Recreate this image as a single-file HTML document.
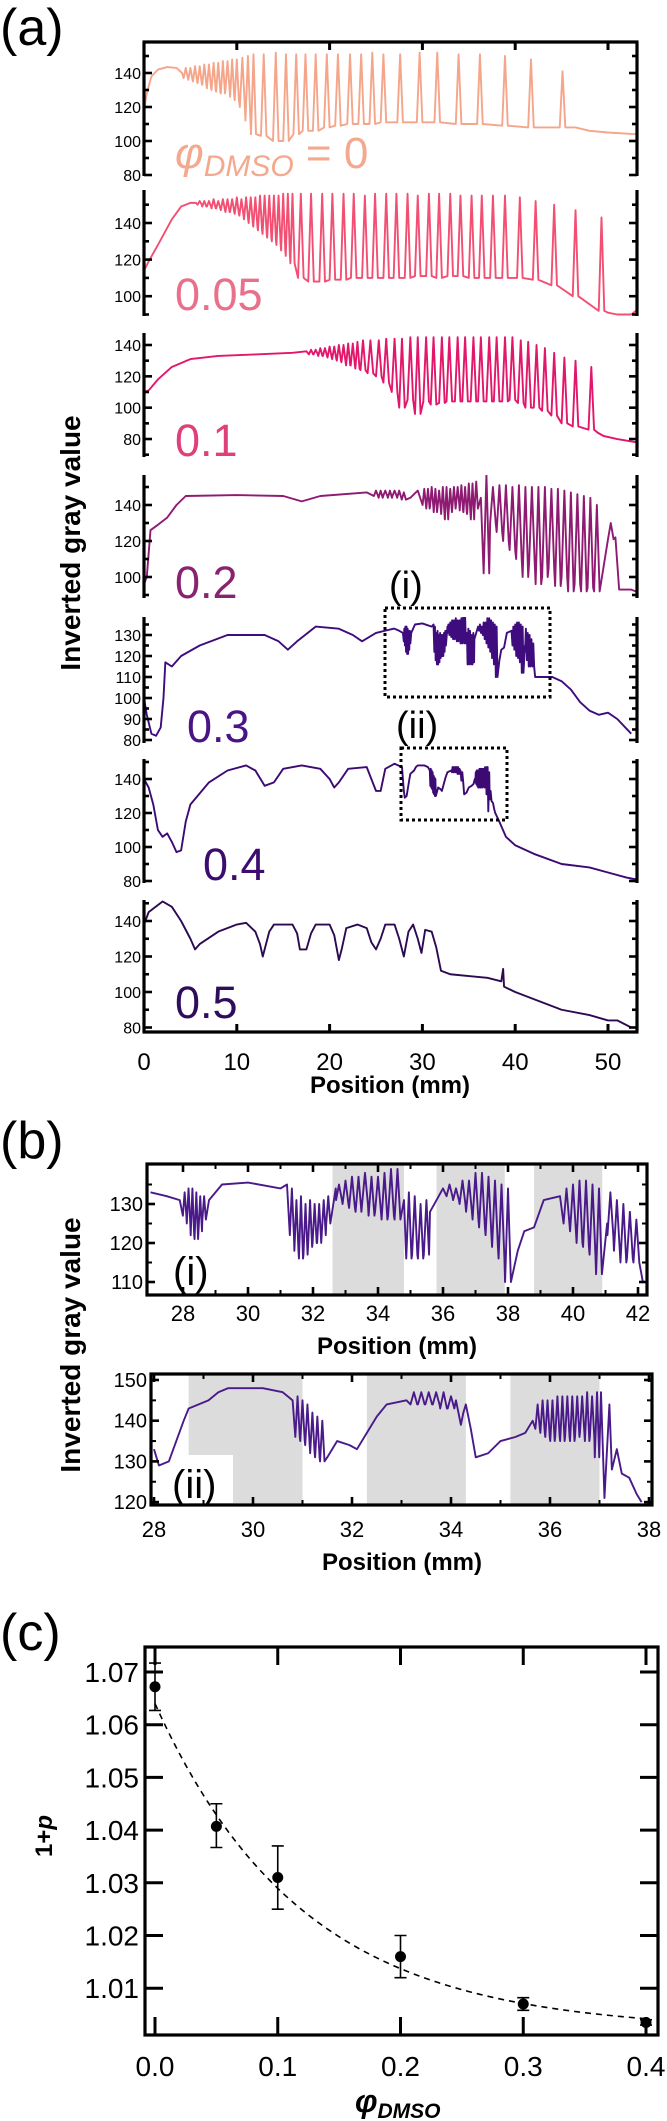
<!DOCTYPE html>
<html><head><meta charset="utf-8"><title>Gray value profiles</title>
<style>
html,body{margin:0;padding:0;background:#fff;}
svg{display:block;}
text{font-family:"Liberation Sans",Arial,sans-serif;}
</style></head>
<body>
<svg id="fig" width="667" height="2121" viewBox="0 0 667 2121" xmlns="http://www.w3.org/2000/svg">
  <rect x="0" y="0" width="667" height="2121" fill="#fff"/>
  <text x="0" y="45" font-size="52">(a)</text>
  <text x="0" y="1158" font-size="52">(b)</text>
  <text x="0" y="1650" font-size="52">(c)</text>
  <text transform="translate(80,543) rotate(-90)" text-anchor="middle" font-size="28" font-weight="bold">Inverted gray value</text>
  <text x="390" y="1093" text-anchor="middle" font-size="24" font-weight="bold">Position (mm)</text>
  <text transform="translate(80,1345) rotate(-90)" text-anchor="middle" font-size="28" font-weight="bold">Inverted gray value</text>
  <text x="397" y="1354" text-anchor="middle" font-size="24" font-weight="bold">Position (mm)</text>
  <text x="402" y="1570" text-anchor="middle" font-size="24" font-weight="bold">Position (mm)</text>
  <text transform="translate(52,1836) rotate(-90)" text-anchor="middle" font-size="24" font-weight="bold">1+<tspan font-style="italic">p</tspan></text>
  <text x="355" y="2112" font-size="32" font-weight="bold" font-style="italic">φ<tspan font-size="21" dy="6">DMSO</tspan></text>
  <g id="layer"></g>
</svg>
<script>
// ---------------- data: panel (a) ----------------
const p1Base = [[0,118],[0.3,128],[0.8,138],[1.5,142],[2.5,143.5],[3.5,143],[4.1,140],[46.5,108],[48,106],[50,105],[53,104]];
const p1OscX = [4.5,5,5.5,6,6.5,7,7.5,8,8.5,9,9.5,10,10.6,11.2,11.8,12.9,14.2,15.3,16.4,17.4,18.5,19.7,20.9,22.2,23.4,24.6,25.8,27.6,29.7,31.6,33.9,36.2,38.9,41.7,45.1];
const p1OscHi = [143,143,144,144,145,145,146,146,147,147,148,148,149,150,151,151,152,151,151,151,151,151,151,151,151,152,151,151,152,152,151,151,150,148,141];
const p1OscLo = [137,136,135,134,133,131,130,129,128,130,126,124,120,112,104,103,100,100,104,106,106,108,109,110,110,110,111,111,111,111,110,110,109,108,108];

const p2Base = [[0,114],[0.5,119],[1.5,128],[3,142],[4,149],[5,151],[5.6,151],[50,91],[51,90],[52.5,90],[53,92]];
const p2OscX = [6,6.5,7,7.5,8,8.5,9,9.5,10,10.5,11,11.5,12,12.5,13,13.5,14,14.5,15,15.5,16,16.9,18.0,19.2,20.3,21.5,22.6,23.8,24.9,26.1,27.2,28.4,29.5,30.7,31.8,33.0,34.1,35.3,36.4,37.6,38.9,40.5,42.2,44.2,46.5,49.3];
const p2OscHi = [152,152,152,153,152,153,153,153,154,153,154,154,154,155,155,155,155,155,156,156,156,156,156,156,156,156,156,155,156,156,156,156,155,156,156,156,155,155,155,155,155,154,152,150,147,143];
const p2OscLo = [150,149,149,148,148,147,146,146,145,144,142,140,138,136,134,132,130,128,125,122,118,110,108,108,109,109,110,110,110,110,110,110,111,111,110,111,111,110,110,110,110,110,109,106,100,92];

const p3Base = [[0,110],[0.5,111],[1.5,118],[3,126],[5,131],[8,133],[12,134],[16,135],[17.5,136],[48.9,84],[49.5,82],[51,80],[53,78]];
const p3OscX = [18,18.5,19,19.5,20,20.5,21,21.5,22,22.5,23,23.6,24.4,25.3,26.1,27,27.8,28.7,29.5,30.4,31.2,32.1,32.9,33.8,34.6,35.5,36.3,37.2,38,38.9,39.7,40.6,41.4,42.3,43.2,44.2,45.3,46.5,48.2];
const p3OscHi = [137,137,138,138,139,139,140,140,141,141,142,143,143,143,144,144,144,145,145,145,145,145,145,145,145,145,145,145,145,145,145,143,142,140,138,135,132,130,126];
const p3OscLo = [134,134,133,133,132,131,130,129,127,127,125,124,122,120,116,110,100,105,96,104,102,103,104,104,104,104,104,104,104,104,105,103,100,100,98,95,90,88,86];

const p4Base = [[0,96],[0.3,100],[0.7,126],[1.5,129],[2.5,133],[3.5,140],[4.5,145],[10,145.5],[15,145],[17,142],[19,145],[24,147],[28.7,144],[29.5,148],[36.3,144],[50.8,122],[51.2,93],[52.5,93],[53,92]];
const p4OscX = [25,25.5,26,26.5,27,27.5,28,30.2,30.6,31,31.4,31.8,32.2,32.6,33,33.4,33.8,34.2,34.6,35,35.4,35.8,36.9,37.6,38.3,39,39.7,40.4,41.1,41.8,42.5,43.2,43.9,44.6,45.3,46,46.7,47.4,48.1,48.8,50.3];
const p4OscHi = [148,148,148,148,148,148,147,149,149,150,149,148,150,150,149,150,150,151,150,152,152,153,157,150,151,151,150,151,150,150,150,150,149,149,148,147,146,145,144,140,130];
const p4OscLo = [145,144,145,144,145,144,143,140,138,139,136,138,135,132,136,138,140,137,136,135,132,138,102,130,125,120,115,110,100,108,96,100,105,95,100,92,96,92,94,92,121];

const p5BaseA = [[0,100],[0.3,92],[0.8,83],[1.3,82],[1.8,86],[2.1,100],[2.3,117],[3,115],[4,120],[6,125],[9,130],[13,130],[14.5,127],[15.5,123],[16.5,127],[18.5,134],[21,133],[22.5,130],[23.5,127],[25,131],[26.9,133]];
const p5BaseB = [[42.5,110],[44,110],[45,108],[46,104],[47,98],[48,94],[49,92],[50,93],[51,90],[52.5,83]];

// region (i): shared by panel (a) 0.3 and panel (b)(i)
const biBase = [[27,133],[27.5,132],[27.9,131],[28.8,131],[29.2,135],[30,135.5],[31,134],[31.2,135],[32.7,134],[34.8,131],[35.6,128],[36,134],[38.3,118],[38.5,123],[38.8,124],[39.1,131],[39.6,132],[41.05,125],[42.15,110]];
const biOscX = [28.05,28.17,28.29,28.41,28.53,28.65,31.35,31.49,31.63,31.77,31.91,32.05,32.19,32.33,32.47,32.8,33,33.2,33.4,33.6,33.8,34,34.2,34.4,34.6,34.95,35.13,35.31,35.49,36.2,36.4,36.6,36.8,37,37.2,37.4,37.6,37.8,38,39.8,40,40.2,40.4,40.6,40.8,41.15,41.35,41.55,41.75,41.95];
const biOscHi = [133,134,134,133,132,132,134,131,132,130,131,130,130,131,132,135,136,137,137,138,137,137,138,139,139,133,132,130,131,135,134,136,136,138,138,137,136,135,134,134,135,136,136,135,134,133,131,130,128,126];
const biOscLo = [127,125,122,121,123,126,122,118,116,117,119,120,120,122,125,131,130,129,128,130,127,128,126,127,126,116,117,116,117,132,131,130,128,126,124,122,119,116,110,125,123,120,119,117,112,122,118,115,116,115];

// region (ii): shared by panel (a) 0.4 and panel (b)(ii)
const biiBase = [[28,133],[28.1,129],[28.3,130],[28.6,140],[28.7,143],[29.1,145],[29.3,147],[29.5,148],[30.2,148],[30.6,147],[30.8,145],[31.5,131],[31.7,135],[31.95,134],[32.1,133],[32.3,137],[32.5,141],[32.7,144],[33.1,145],[34.1,145],[34.2,139],[34.25,142],[34.3,144],[34.4,138],[34.5,131],[34.75,132],[35,135],[35.3,136],[35.5,137],[35.65,140],[37.03,147],[37.1,121],[37.2,144],[37.25,128],[37.35,133],[37.45,127],[37.6,126],[37.75,122],[37.85,120]];
const biiOscX = [30.9,31,31.1,31.2,31.3,31.4,33.25,33.4,33.55,33.7,33.85,34,35.75,35.85,35.95,36.05,36.15,36.25,36.35,36.45,36.55,36.65,36.75,36.85,36.95];
const biiOscHi = [146,145,144,142,141,140,147,147,147,147,147,146,144,145,145,145,146,146,146,146,146,146,147,146,147];
const biiOscLo = [136,135,134,132,131,130,144,144,144,144,143,143,138,137,136,135,136,135,136,135,136,137,135,136,131];

const p6BaseA = [[0,140],[0.5,135],[1,125],[1.5,110],[2,106],[2.5,108],[3,103],[3.5,97],[4,98],[4.5,115],[5,125],[7,138],[9,145],[11,148],[12,145],[13,136],[14,138],[15,146],[17,148],[19,146],[20,140],[20.5,135],[21,138],[22,146],[24,147],[24.5,140],[25,133],[25.5,133],[26,146],[27,149],[27.8,147]];
const p6BaseB = [[38.2,116],[39,106],[40,101],[42,96],[45,90],[48,88],[50,85],[52,82],[53,81]];

const p7Base = [[0,138],[0.5,145],[2,151],[3,148],[4,140],[5,130],[5.5,124],[6,127],[8,134],[10,138],[11,139],[12,134],[12.5,127],[12.8,120],[13,124],[13.5,134],[14,138],[16,138],[16.5,133],[16.8,124],[17.5,124],[18,133],[18.5,138],[20,138],[20.5,132],[21,118],[21.3,124],[21.8,136],[23,138],[24,136],[24.5,128],[25,124],[25.5,130],[26,138],[27,138],[27.5,130],[28,120],[28.5,134],[29,138],[29.5,130],[29.9,122],[30.3,135],[31,134],[31.5,125],[32,112],[33,110],[35,109],[37,108],[38.5,106],[38.7,113],[38.8,103],[40,100],[42,96],[45,90],[48,87],[50,84],[51,84],[52.5,80]];

const aXTicks = [0,10,20,30,40,50];
const aSeriesLabels = ['0.05','0.1','0.2','0.3','0.4','0.5'];

// ---------------- data: panel (b) ----------------
const biTicksX = [28,30,32,34,36,38,40,42];
const biTicksY = [110,120,130];
const biBands = [[32.6,34.8],[35.8,37.9],[38.8,40.9]];
const biiTicksX = [28,30,32,34,36,38];
const biiTicksY = [120,130,140,150];
const biiBands = [[28.7,31.0],[32.3,34.3],[35.2,37.0]];

// ---------------- data: panel (c) ----------------
const cPhi = [0,0.05,0.1,0.2,0.3,0.4];
const cVal = [1.0672,1.0407,1.031,1.016,1.007,1.0035];
const cErrUp = [0.0045,0.0043,0.006,0.004,0.0012,0.0005];
const cErrDn = [0.0045,0.004,0.006,0.004,0.0012,0.0005];
const cFitA = 0.062, cFitTau = 0.12, cFitC = 1.002;
const cTicksX = [0,0.1,0.2,0.3,0.4];
const cTickLabelsX = ['0.0','0.1','0.2','0.3','0.4'];
const cTicksY = [1.01,1.02,1.03,1.04,1.05,1.06,1.07];

// ---------------- helpers ----------------
const NS='http://www.w3.org/2000/svg';
const layer=document.getElementById('layer');
function mk(tag,attrs,parent){const e=document.createElementNS(NS,tag);for(const k in attrs)e.setAttribute(k,attrs[k]);(parent||layer).appendChild(e);return e;}
function zipOsc(xs,his,los){return xs.map((x,i)=>({x:x,hi:his[i],lo:los[i]}));}
function buildPts(bases,oscs){
  const pts=[];
  bases.forEach(b=>b.forEach(p=>pts.push([p[0],p[1]])));
  oscs.forEach(o=>{
    for(let i=0;i<o.length;i++){
      const gl=i>0?o[i].x-o[i-1].x:1, gr=i<o.length-1?o[i+1].x-o[i].x:1;
      const w=Math.min(0.3,0.45*Math.min(gl,gr));
      pts.push([o[i].x-w,o[i].lo]);pts.push([o[i].x,o[i].hi]);pts.push([o[i].x+w,o[i].lo]);
    }
  });
  pts.sort((a,b)=>a[0]-b[0]);
  return pts;
}
function pathD(pts,sx,sy){return pts.map((p,i)=>(i?'L':'M')+sx(p[0]).toFixed(2)+','+sy(p[1]).toFixed(2)).join('');}

const oscI = zipOsc(biOscX,biOscHi,biOscLo);
const oscII = zipOsc(biiOscX,biiOscHi,biiOscLo);

// ---------------- panel (a) ----------------
const ax = v => 144 + v*9.28;
const aLeft=144, aRight=637;
const panels = [
  {name:'phi-0', top:42, bot:176, ref:140, y0:73, k:1.7, ticks:[80,100,120,140], minor:10, color:'#f5a58a',
   pts: buildPts([p1Base],[zipOsc(p1OscX,p1OscHi,p1OscLo)])},
  {name:'phi-0.05', top:190, bot:316, ref:140, y0:223, k:1.83, ticks:[100,120,140], minor:10, color:'#f24f72',
   pts: buildPts([p2Base],[zipOsc(p2OscX,p2OscHi,p2OscLo)])},
  {name:'phi-0.1', top:333, bot:457, ref:140, y0:345, k:1.567, ticks:[80,100,120,140], minor:10, color:'#e2166a',
   pts: buildPts([p3Base],[zipOsc(p3OscX,p3OscHi,p3OscLo)])},
  {name:'phi-0.2', top:475, bot:598, ref:140, y0:505, k:1.8, ticks:[100,120,140], minor:10, color:'#8e1a72',
   pts: buildPts([p4Base],[zipOsc(p4OscX,p4OscHi,p4OscLo)])},
  {name:'phi-0.3', top:617, bot:743, ref:130, y0:635, k:2.1, ticks:[80,90,100,110,120,130], minor:5, color:'#3e0c7c',
   pts: buildPts([p5BaseA,biBase,p5BaseB],[oscI])},
  {name:'phi-0.4', top:759, bot:883, ref:140, y0:779, k:1.7, ticks:[80,100,120,140], minor:10, color:'#3c0a72',
   pts: buildPts([p6BaseA,biiBase,p6BaseB],[oscII])},
  {name:'phi-0.5', top:900, bot:1032, ref:140, y0:921, k:1.775, ticks:[80,100,120,140], minor:10, color:'#2c0a52',
   pts: buildPts([p7Base],[])}
];
const defs=mk('defs',{});
panels.forEach((P,pi)=>{
  const g=mk('g',{});
  
  
  const sy=v=>P.y0+(P.ref-v)*P.k;
  const cp=mk('clipPath',{id:'clipA'+pi},defs);
  mk('rect',{x:aLeft,y:P.top,width:aRight-aLeft,height:P.bot-P.top},cp);
  const line=mk('path',{d:pathD(P.pts,ax,sy),fill:'none',stroke:P.color,'stroke-width':1.9,'stroke-linejoin':'round','clip-path':'url(#clipA'+pi+')'},g);
  
  
  const la=mk('line',{x1:aLeft,y1:P.top,x2:aLeft,y2:P.bot,stroke:'#000','stroke-width':3.2},g);
  
  
  const ra=mk('line',{x1:aRight,y1:P.top,x2:aRight,y2:P.bot,stroke:'#000','stroke-width':3.2},g);
  
  
  const lo=P.ticks[0], hi=P.ticks[P.ticks.length-1];
  for(let v=lo-P.minor*2; v<=hi+P.minor*2; v+=P.minor){
    const y=sy(v); if(y<P.top+1||y>P.bot+1) continue;
    const major=P.ticks.indexOf(v)>=0;
    const L=major?8:5;
    mk('line',{x1:aLeft,y1:y,x2:aLeft+L,y2:y,stroke:'#000','stroke-width':2.6},g);
    mk('line',{x1:aRight,y1:y,x2:aRight-L,y2:y,stroke:'#000','stroke-width':2.6},g);
  }
  P.ticks.forEach(v=>{
    const t=mk('text',{x:aLeft-3,y:sy(v)+6,'text-anchor':'end','font-size':16},g);
    t.textContent=v;
    
    
  });
  if(pi===0){
    const ta=mk('line',{x1:aLeft-1.5,y1:P.top,x2:aRight+1.5,y2:P.top,stroke:'#000','stroke-width':3.2},g);
    
    
    aXTicks.forEach(v=>{ if(v>0) mk('line',{x1:ax(v),y1:P.top,x2:ax(v),y2:P.top+8,stroke:'#000','stroke-width':3},g); });
  }
  if(pi===panels.length-1){
    const ba=mk('line',{x1:aLeft-1.5,y1:P.bot,x2:aRight+1.5,y2:P.bot,stroke:'#000','stroke-width':3.2},g);
    
    
    aXTicks.forEach(v=>{
      if(v>0) mk('line',{x1:ax(v),y1:P.bot,x2:ax(v),y2:P.bot-8,stroke:'#000','stroke-width':3},g);
      const t=mk('text',{x:ax(v),y:1070,'text-anchor':'middle','font-size':24},g);
      t.textContent=v;
      
      
    });
  }
});
const labelPos=[[175,310,'#e8708a'],[175,456,'#e0407a'],[175,598,'#8a2272'],[187,742,'#4a1484'],[203,880,'#3c0c6e'],[175,1018,'#2f0c5c']];
aSeriesLabels.forEach((s,i)=>{
  const t=mk('text',{x:labelPos[i][0],y:labelPos[i][1],'font-size':45,fill:labelPos[i][2]});
  t.textContent=s;
  
  
});
{
  const t=mk('text',{x:175,y:168,'font-size':44,fill:'#f4a88e','font-style':'italic'});
  
  
  t.innerHTML='φ<tspan font-size="30" dy="8">DMSO</tspan><tspan font-style="normal" dy="-8"> = 0</tspan>';
}
[[385,608,550,697,'box-i'],[401,748,507,820,'box-ii']].forEach(b=>{
  const r=mk('rect',{x:b[0],y:b[1],width:b[2]-b[0],height:b[3]-b[1],fill:'none',stroke:'#000','stroke-width':3,'stroke-dasharray':'3,3'});
  
  
});
{
  const t1=mk('text',{x:389,y:598,'font-size':38});
  t1.textContent='(i)';
  
  
  const t2=mk('text',{x:396,y:738,'font-size':38});
  t2.textContent='(ii)';
  
  
}

// ---------------- panel (b) ----------------
function bPanel(cfg){
  const g=mk('g',{});
  
  
  const sx=cfg.sx, sy=cfg.sy;
  cfg.bands.forEach(b=>{
    const r=mk('rect',{x:sx(b[0]),y:cfg.top,width:sx(b[1])-sx(b[0]),height:cfg.bot-cfg.top,fill:'#dcdcdc'},g);
    
    
  });
  if(cfg.white){
    const w=mk('rect',{x:cfg.white[0],y:cfg.white[1],width:cfg.white[2],height:cfg.white[3],fill:'#fff'},g);
    
    
  }
  const cp=mk('clipPath',{id:cfg.name+'-clip'},defs);
  mk('rect',{x:cfg.left,y:cfg.top,width:cfg.right-cfg.left,height:cfg.bot-cfg.top},cp);
  const line=mk('path',{d:pathD(cfg.pts,sx,sy),fill:'none',stroke:'#4a1a8a','stroke-width':1.9,'stroke-linejoin':'round','clip-path':'url(#'+cfg.name+'-clip)'},g);
  
  
  const fr=mk('rect',{x:cfg.left,y:cfg.top,width:cfg.right-cfg.left,height:cfg.bot-cfg.top,fill:'none',stroke:'#000','stroke-width':3.2},g);
  
  
  cfg.tx.forEach(v=>{
    const x=sx(v);
    mk('line',{x1:x,y1:cfg.bot,x2:x,y2:cfg.bot-8,stroke:'#000','stroke-width':2.6},g);
    mk('line',{x1:x,y1:cfg.top,x2:x,y2:cfg.top+8,stroke:'#000','stroke-width':2.6},g);
    const xm=sx(v+1);
    if(xm<cfg.right-2){mk('line',{x1:xm,y1:cfg.bot,x2:xm,y2:cfg.bot-5,stroke:'#000','stroke-width':2},g);mk('line',{x1:xm,y1:cfg.top,x2:xm,y2:cfg.top+5,stroke:'#000','stroke-width':2},g);}
    const t=mk('text',{x:x,y:cfg.labY,'text-anchor':'middle','font-size':22},g);
    t.textContent=v;
    
    
  });
  cfg.ty.forEach(v=>{
    const y=sy(v);
    mk('line',{x1:cfg.left,y1:y,x2:cfg.left+8,y2:y,stroke:'#000','stroke-width':2.6},g);
    mk('line',{x1:cfg.right,y1:y,x2:cfg.right-8,y2:y,stroke:'#000','stroke-width':2.6},g);
    const ym=sy(v+5);
    if(ym>cfg.top+2){mk('line',{x1:cfg.left,y1:ym,x2:cfg.left+5,y2:ym,stroke:'#000','stroke-width':2},g);mk('line',{x1:cfg.right,y1:ym,x2:cfg.right-5,y2:ym,stroke:'#000','stroke-width':2},g);}
    const t=mk('text',{x:cfg.left-4,y:y+7,'text-anchor':'end','font-size':20},g);
    t.textContent=v;
    
    
  });
  const lt=mk('text',{x:cfg.lab[0],y:cfg.lab[1],'font-size':40},g);
  lt.textContent=cfg.labText;
  
  
}
bPanel({name:'subplot-b-i',left:147,right:647,top:1164,bot:1295,
  sx:v=>183+(v-28)*32.5, sy:v=>1204+(130-v)*3.9,
  pts:buildPts([biBase],[oscI]), bands:biBands, tx:biTicksX, ty:biTicksY, labY:1321,
  lab:[173,1285], labText:'(i)'});
bPanel({name:'subplot-b-ii',left:151,right:652,top:1374,bot:1505,
  sx:v=>154+(v-28)*49.5, sy:v=>1380+(150-v)*4.07,
  pts:buildPts([biiBase],[oscII]), bands:biiBands, tx:biiTicksX, ty:biiTicksY, labY:1537,
  white:[153,1455,80,48], lab:[172,1498], labText:'(ii)'});

// ---------------- panel (c) ----------------
{
  const cx=v=>155+v*1227.5, cy=v=>1672+(1.07-v)*5270;
  const L=145,R=658,T=1647,B=2035;
  const g=mk('g',{});
  
  
  const fr=mk('rect',{x:L,y:T,width:R-L,height:B-T,fill:'none',stroke:'#000','stroke-width':3.2},g);
  
  
  cTicksX.forEach((v,i)=>{
    const x=cx(v);
    mk('line',{x1:x,y1:B,x2:x,y2:B-18,stroke:'#000','stroke-width':3},g);
    mk('line',{x1:x,y1:T,x2:x,y2:T+18,stroke:'#000','stroke-width':3},g);
    const t=mk('text',{x:x,y:2076,'text-anchor':'middle','font-size':28},g);
    t.textContent=cTickLabelsX[i];
    
    
  });
  cTicksY.forEach(v=>{
    const y=cy(v);
    mk('line',{x1:L,y1:y,x2:L+18,y2:y,stroke:'#000','stroke-width':3},g);
    mk('line',{x1:R,y1:y,x2:R-18,y2:y,stroke:'#000','stroke-width':3},g);
    const t=mk('text',{x:L-6,y:y+10,'text-anchor':'end','font-size':28},g);
    t.textContent=v.toFixed(2);
    
    
  });
  const fitPts=[];
  for(let i=0;i<=80;i++){const x=0.4*i/80; fitPts.push([x,cFitC+cFitA*Math.exp(-x/cFitTau)]);}
  const fit=mk('path',{d:pathD(fitPts,cx,cy),fill:'none',stroke:'#000','stroke-width':1.6,'stroke-dasharray':'6,5'},g);
  
  
  cPhi.forEach((p,i)=>{
    const x=cx(p), y1=cy(cVal[i]+cErrUp[i]), y2=cy(cVal[i]-cErrDn[i]);
    const eb=mk('path',{d:'M'+x+','+y1+'V'+y2+'M'+(x-6)+','+y1+'H'+(x+6)+'M'+(x-6)+','+y2+'H'+(x+6),stroke:'#000','stroke-width':1.6,fill:'none'},g);
    
    
    const c=mk('circle',{cx:x,cy:cy(cVal[i]),r:5.5,fill:'#000'},g);
    
    
  });
}
</script>
</body></html>
